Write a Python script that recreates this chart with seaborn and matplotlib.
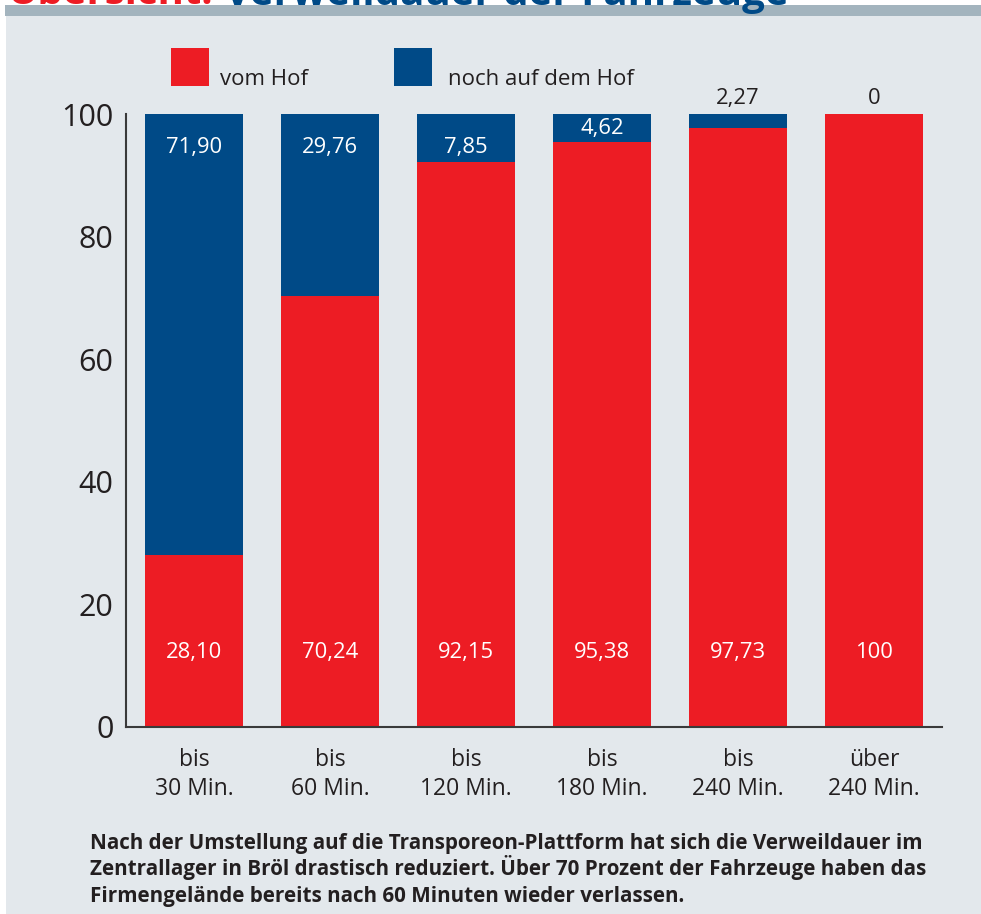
import matplotlib
matplotlib.use("Agg")
import matplotlib.pyplot as plt
import seaborn as sns
import pandas as pd
from matplotlib.patches import Rectangle

categories = ["bis\n30 Min.", "bis\n60 Min.", "bis\n120 Min.", "bis\n180 Min.", "bis\n240 Min.", "über\n240 Min."]
vom_hof = [28.10, 70.24, 92.15, 95.38, 97.73, 100]
noch_auf_dem_hof = [71.90, 29.76, 7.85, 4.62, 2.27, 0]
vom_hof_labels = ["28,10", "70,24", "92,15", "95,38", "97,73", "100"]
noch_labels = ["71,90", "29,76", "7,85", "4,62", "2,27", "0"]
series_names = ["vom Hof", "noch auf dem Hof"]
y_ticks = [0, 20, 40, 60, 80, 100]
title_red = "Übersicht:"
title_blue = " Verweildauer der Fahrzeuge"
caption_lines = ["Nach der Umstellung auf die Transporeon-Plattform hat sich die Verweildauer im",
                 "Zentrallager in Bröl drastisch reduziert. Über 70 Prozent der Fahrzeuge haben das",
                 "Firmengelände bereits nach 60 Minuten wieder verlassen."]

RED = "#ED1C24"
BLUE = "#004A87"
BG = "#E3E8EC"
BAND = "#A3B4BE"
TXT = "#231F20"

sns.set_style("white")
plt.rcParams["font.family"] = ["Open Sans", "DejaVu Sans"]

W, H = 981, 914
fig = plt.figure(figsize=(W / 100, H / 100), dpi=100)
fig.patch.set_facecolor("white")

def fx(px):
    return px / W

def fy(py):
    return 1 - py / H

# panel background and band
fig.patches.append(Rectangle((fx(6), 0), 1 - fx(6), fy(5), transform=fig.transFigure,
                             facecolor=BG, edgecolor="none", zorder=-2))
fig.patches.append(Rectangle((fx(5), fy(16)), 1 - fx(5), fy(5) - fy(16), transform=fig.transFigure,
                             facecolor=BAND, edgecolor="none", zorder=-1))

# title (cut off at the top, as in the reference)
t1 = fig.text(fx(8), fy(4.5), title_red, color=RED, fontsize=29, fontweight="bold",
              ha="left", va="baseline", zorder=3)
fig.canvas.draw()
bb = t1.get_window_extent()
fig.text(bb.x1 / W, fy(4.5), title_blue, color=BLUE, fontsize=29, fontweight="bold",
         ha="left", va="baseline", zorder=3)

ax = fig.add_axes([fx(126), fy(727), fx(942) - fx(126), fy(114) - fy(727)])
ax.set_zorder(1)
ax.patch.set_alpha(0)

df = pd.DataFrame({"cat": categories, "vom": vom_hof, "noch": noch_auf_dem_hof})
df["total"] = df["vom"] + df["noch"]

sns.barplot(data=df, x="cat", y="total", color=BLUE, width=0.72, saturation=1,
            linewidth=0, ax=ax, order=categories)
sns.barplot(data=df, x="cat", y="vom", color=RED, width=0.72, saturation=1,
            linewidth=0, ax=ax, order=categories)

ax.set_xlim(-0.5, 5.5)
ax.set_ylim(0, 100)
ax.set_xlabel("")
ax.set_ylabel("")

# value labels
for i in range(len(categories)):
    ax.text(i, 12.2, vom_hof_labels[i], color="white", fontsize=15.8, ha="center", va="center")
    n = noch_auf_dem_hof[i]
    if n >= 5:
        ax.text(i, 94.6, noch_labels[i], color="white", fontsize=15.8, ha="center", va="center")
    elif n >= 4:
        ax.text(i, 100 - n / 2, noch_labels[i], color="white", fontsize=15.8, ha="center", va="center")
    else:
        ax.text(i, 100.8, noch_labels[i], color=TXT, fontsize=15.8, ha="center", va="bottom")

# axes styling
for s in ["top", "right"]:
    ax.spines[s].set_visible(False)
for s in ["left", "bottom"]:
    ax.spines[s].set_color("#3a3a3a")
    ax.spines[s].set_linewidth(1.5)

ax.set_yticks(y_ticks)
ax.set_yticklabels([str(v) for v in y_ticks])
ax.tick_params(axis="y", direction="in", length=12, width=1.5, color="#3a3a3a",
               labelsize=22, labelcolor=TXT, pad=9)
ax.set_xticks(range(len(categories)))
ax.set_xticklabels(categories)
ax.tick_params(axis="x", which="major", length=0, labelsize=16.5, labelcolor=TXT, pad=15)
ax.set_xticks([i + 0.5 for i in range(len(categories))], minor=True)
ax.tick_params(axis="x", which="minor", direction="in", length=14, width=1.5, color="#3a3a3a")
for lab in ax.get_xticklabels():
    lab.set_linespacing(1.3)

# legend
legend_colors = [RED, BLUE]
sq_x = [171, 394]
txt_x = [220, 448]
for c, sx, tx, name in zip(legend_colors, sq_x, txt_x, series_names):
    fig.patches.append(Rectangle((fx(sx), fy(86)), fx(38), fy(48) - fy(86),
                                 transform=fig.transFigure, facecolor=c, edgecolor="none", zorder=2))
    fig.text(fx(tx), fy(85), name, color=TXT, fontsize=16, ha="left", va="baseline")

# caption
for k, line in enumerate(caption_lines):
    fig.text(fx(90), fy(849 + 26.5 * k), line, color=TXT, fontsize=14.9, fontweight="bold",
             ha="left", va="baseline")

fig.savefig("out.png", dpi=100, facecolor=fig.get_facecolor())
